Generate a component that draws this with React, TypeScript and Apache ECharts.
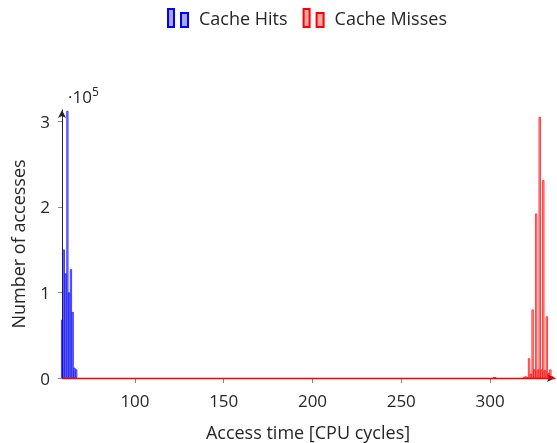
import React, { useEffect, useRef } from "react";
import * as echarts from "echarts";

const hitsCycles = [59, 60, 61, 62, 63, 64, 65, 66, 67];
const hitsCounts = [68000, 150000, 122000, 312000, 100000, 127000, 77000, 12000, 10000];

const missesCycles = [302, 303, 319, 320, 321, 322, 323, 324, 325, 326, 327, 328, 329, 330, 331, 332, 333, 334, 335];
const missesCounts = [1000, 1000, 500, 2000, 1000, 23000, 5000, 80000, 10000, 192000, 10000, 305000, 10000, 231000, 9000, 72000, 6000, 10000, 2000];

const xTicks = [100, 150, 200, 250, 300];
const yTicks = [0, 100000, 200000, 300000];

const FONT = "Open Sans";
const TXT = "#262626";

export default function App() {
  const ref = useRef<HTMLDivElement>(null);
  useEffect(() => {
    if (!ref.current) return;
    const chart = echarts.init(ref.current, undefined, { renderer: "svg" });
    chart.setOption({
      animation: false,
      textStyle: { fontFamily: FONT },
      legend: {
        left: 167,
        top: 8,
        padding: 0,
        itemWidth: 20,
        itemHeight: 19,
        itemGap: 15,
        icon: "path://M0,0H6V18H0Z M13,4H20V18H13Z",
        textStyle: { fontFamily: FONT, fontSize: 18, color: TXT, padding: [0, 0, 0, 6] },
        data: ["Cache Hits", "Cache Misses"],
      },
      grid: { left: 62, right: 2, top: 110, bottom: 65, containLabel: false },
      xAxis: {
        type: "value",
        min: 58.9,
        max: 336.6,
        splitLine: { show: false },
        axisLine: {
          show: true,
          lineStyle: { color: "#222", width: 1 },
          symbol: ["none", "arrow"],
          symbolSize: [6, 8],
        },
        axisTick: { show: true, length: 5, lineStyle: { color: "#888" }, customValues: xTicks },
        axisLabel: { customValues: xTicks, fontSize: 17, color: TXT, margin: 14, fontFamily: FONT },
      },
      yAxis: {
        type: "value",
        min: 0,
        max: 313000,
        splitLine: { show: false },
        axisLine: {
          show: true,
          lineStyle: { color: "#222", width: 1 },
          symbol: ["none", "arrow"],
          symbolSize: [6, 8],
        },
        axisTick: { show: true, length: 4, lineStyle: { color: "#888" }, customValues: yTicks },
        axisLabel: {
          customValues: yTicks,
          fontSize: 17,
          color: TXT,
          margin: 12,
          fontFamily: FONT,
          formatter: (v: number) => String(Math.round(v / 100000)),
        },
      },
      graphic: [
        {
          type: "text",
          left: 68,
          top: 85,
          style: {
            text: "{a|·10}{b|5}",
            rich: {
              a: { fontSize: 17, fontFamily: FONT, fill: TXT, verticalAlign: "bottom" },
              b: { fontSize: 12, fontFamily: FONT, fill: TXT, verticalAlign: "top", padding: [0, 0, 8, 0] },
            },
          },
        },
        {
          type: "text",
          x: 308,
          y: 432,
          style: {
            text: "Access time [CPU cycles]",
            fontSize: 18,
            fontFamily: FONT,
            fill: TXT,
            align: "center",
            verticalAlign: "middle",
          },
        },
        {
          type: "text",
          x: 18,
          y: 244,
          rotation: Math.PI / 2,
          style: {
            text: "Number of accesses",
            fontSize: 18,
            fontFamily: FONT,
            fill: TXT,
            align: "center",
            verticalAlign: "middle",
          },
        },
      ],
      series: [
        {
          name: "Cache Hits",
          type: "bar",
          barWidth: 2,
          barGap: "-100%",
          itemStyle: { color: "rgba(0,0,255,0.35)", borderColor: "#0000ff", borderWidth: 0.7 },
          data: hitsCycles.map((c, i) => [c, hitsCounts[i]]),
        },
        {
          name: "Cache Misses",
          type: "bar",
          barWidth: 2.2,
          barGap: "-100%",
          itemStyle: { color: "rgba(255,0,0,0.35)", borderColor: "#ff0000", borderWidth: 0.7 },
          data: missesCycles.map((c, i) => [c, missesCounts[i]]),
          markLine: {
            silent: true,
            symbol: ["none", "none"],
            label: { show: false },
            lineStyle: { color: "#ff0000", width: 1.4, type: "solid" },
            data: [{ yAxis: 0 }],
          },
        },
      ],
    });
    return () => chart.dispose();
  }, []);
  return <div ref={ref} style={{ position: "fixed", left: 0, top: 0, width: 557, height: 443 }} />;
}
